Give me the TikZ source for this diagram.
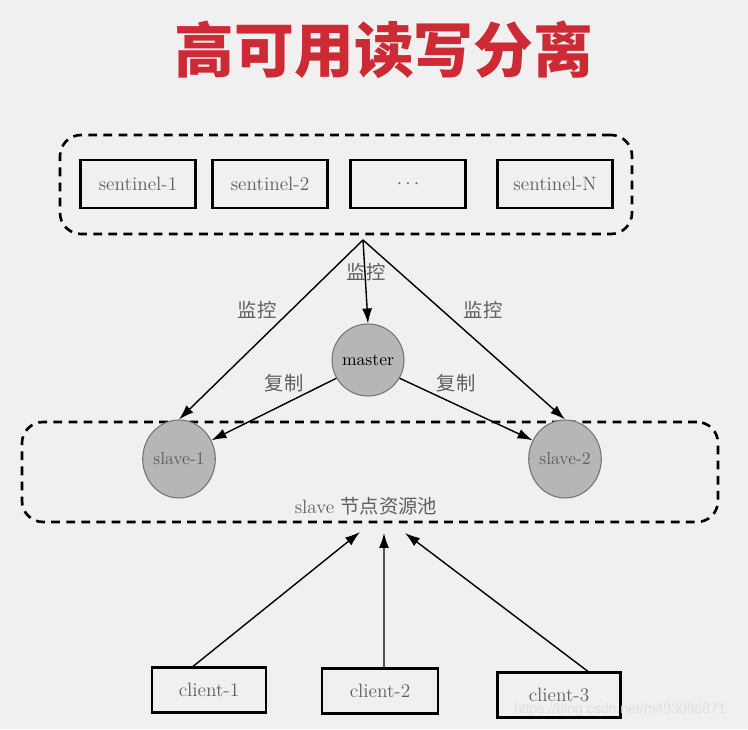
\documentclass[tikz,border=0pt]{standalone}
\usepackage{fontspec}
\newfontfamily\cjk{Noto Sans CJK SC}
\newfontfamily\wmfont{Liberation Sans}
\usetikzlibrary{shapes,arrows.meta,positioning,calc}
\definecolor{titlered}{RGB}{204,42,52}
\definecolor{pagegray}{RGB}{240,240,240}
\definecolor{nodegray}{RGB}{182,182,182}
\definecolor{labelgray}{RGB}{95,95,95}

\begin{document}
\begin{tikzpicture}[
    box/.style={draw,line width=1.2pt,rectangle,minimum width=2.3cm,minimum height=0.95cm,font=\fontsize{11}{13}\selectfont,text=labelgray},
    pool/.style={draw,line width=1.5pt,dash pattern=on 5pt off 3.6pt,rounded corners=12pt},
    ball/.style={draw=black!55,fill=nodegray,line width=0.6pt,inner sep=0pt,font=\normalsize},
    link/.style={line width=0.8pt,-{Latex[length=3mm,width=2mm]}},
    note/.style={font=\cjk\fontsize{11}{13}\selectfont,text=labelgray},
]

% Page
\fill[pagegray] (0,0) rectangle (14.96,14.58);

% Title
\node[font=\cjk\bfseries\fontsize{34}{38}\selectfont,text=titlered] (title) at (7.68,13.58) {高可用读写分离};

% Sentinels
\node[pool,minimum width=11.44cm,minimum height=1.98cm] (sentinels) at (6.92,10.89) {};
\node[box] (s1) at (2.76,10.9) {sentinel-1};
\node[box] (s2) at (5.40,10.9) {sentinel-2};
\node[box] (s3) at (8.16,10.9) {$\cdots$};
\node[box] (sN) at (11.10,10.9) {sentinel-N};
\coordinate (apex) at (7.26,9.78);

% Master
\node[ball,circle,minimum size=1.44cm] (master) at (7.36,7.38) {master};

% Slave pool
\node[pool,minimum width=13.92cm,minimum height=2.0cm] (slaves) at (7.40,5.14) {};
\node[ball,ellipse,minimum width=1.44cm,minimum height=1.56cm,text=labelgray] (slave1) at (3.58,5.40) {slave-1};
\node[ball,ellipse,minimum width=1.44cm,minimum height=1.56cm,text=labelgray] (slave2) at (11.30,5.40) {slave-2};
\node[font=\fontsize{11}{13}\selectfont,text=labelgray] (poollabel) at (7.32,4.46) {slave {\cjk 节点资源池}};

% Monitoring
\draw[link] (apex) -- (master.north);
\draw[link] (apex) -- (slave1.north);
\draw[link] (apex) -- (slave2.north);
\node[note] (mon1) at (7.32,9.14) {监控};
\node[note] (mon2) at (5.14,8.38) {监控};
\node[note] (mon3) at (9.66,8.38) {监控};

% Replication
\draw[link] (master.210) -- (slave1.30);
\draw[link] (master.330) -- (slave2.150);
\node[note] (rep1) at (5.68,6.92) {复制};
\node[note] (rep2) at (9.12,6.92) {复制};

% Clients
\node[box,minimum width=2.28cm,minimum height=0.9cm] (client1) at (4.18,0.78) {client-1};
\node[box,minimum width=2.32cm,minimum height=0.9cm] (client2) at (7.60,0.76) {client-2};
\node[box,minimum width=2.46cm,minimum height=0.9cm] (client3) at (11.18,0.68) {client-3};
\coordinate (in1) at (7.20,3.94);
\coordinate (in2) at (7.68,3.92);
\coordinate (in3) at (8.10,3.92);
\draw[link] ($(client1.north)+(-0.32,0)$) -- (in1);
\draw[link] ($(client2.north)+(0.08,0)$) -- (in2);
\draw[link] ($(client3.north)+(0.58,0)$) -- (in3);

% Watermark
\node[font=\wmfont\footnotesize,text=black!12] (mark) at (12.40,0.38) {https://blog.csdn.net/m493096871};

\end{tikzpicture}
\end{document}
